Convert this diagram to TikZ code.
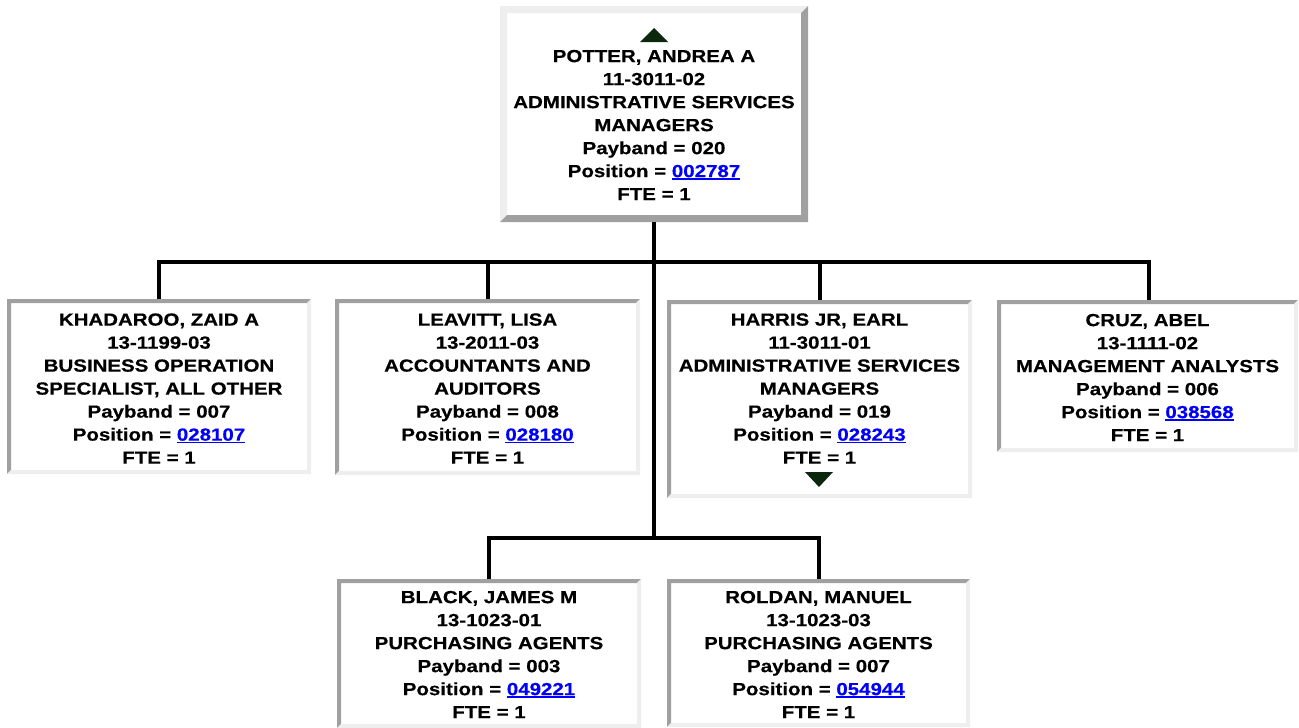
\documentclass[tikz,border=0pt]{standalone}
\usepackage{fontspec}
\setmainfont[FakeStretch=1.17, BoldFeatures={FakeBold=0.4}]{Liberation Sans}
\definecolor{bdark}{HTML}{A0A0A0}
\definecolor{blight}{HTML}{EEEEEE}
\definecolor{linkblue}{HTML}{0000FF}
\definecolor{tricol}{RGB}{12,40,12}
\newcommand\lnk[1]{{\color{linkblue}\setbox0\hbox{#1}\rlap{\rule[-2.6pt]{\wd0}{1.7pt}}\box0}}
\newcommand\bevel[4]{%
 \fill[#2] (#1.north west) -- (#1.north east) -- ([shift={(-#4,-#4)}]#1.north east) -- ([shift={(#4,-#4)}]#1.north west) -- ([shift={(#4,#4)}]#1.south west) -- (#1.south west) -- cycle;
 \fill[#3] (#1.south east) -- (#1.north east) -- ([shift={(-#4,-#4)}]#1.north east) -- ([shift={(-#4,#4)}]#1.south east) -- ([shift={(#4,#4)}]#1.south west) -- (#1.south west) -- cycle;}
\tikzset{
 boxbg/.style={rectangle, fill=white, draw=none, inner sep=0pt, outer sep=0pt},
 txt/.style={align=center, inner sep=0pt, font=\fontsize{17.5pt}{23pt}\selectfont\bfseries},
 conn/.style={draw=black, line width=4pt, line join=miter},
 tri/.style={fill=tricol}
}
\begin{document}
\begin{tikzpicture}[x=1pt,y=-1pt]
\useasboundingbox (0,0) rectangle (1299,728);
% boxes
\node[boxbg, minimum width=308pt, minimum height=216pt] (top) at (654,114) {};
\node[boxbg, minimum width=304pt, minimum height=175pt] (b1) at (159,386.5) {};
\node[boxbg, minimum width=305pt, minimum height=176pt] (b2) at (487.5,387) {};
\node[boxbg, minimum width=305pt, minimum height=198pt] (b3) at (819.5,399) {};
\node[boxbg, minimum width=301pt, minimum height=152pt] (b4) at (1147.5,376) {};
\node[boxbg, minimum width=304pt, minimum height=149pt] (b5) at (489,653.5) {};
\node[boxbg, minimum width=303pt, minimum height=148pt] (b6) at (818.5,653) {};
\bevel{top}{blight}{bdark}{7pt}
\bevel{b1}{bdark}{blight}{4pt}
\bevel{b2}{bdark}{blight}{4pt}
\bevel{b3}{bdark}{blight}{4pt}
\bevel{b4}{bdark}{blight}{4pt}
\bevel{b5}{bdark}{blight}{4pt}
\bevel{b6}{bdark}{blight}{4pt}
% texts
\node[txt] (t0) at (654,125) {POTTER, ANDREA A\\11-3011-02\\ADMINISTRATIVE SERVICES\\MANAGERS\\Payband = 020\\Position = \lnk{002787}\\FTE = 1};
\node[txt] (t1) at (159,388.5) {KHADAROO, ZAID A\\13-1199-03\\BUSINESS OPERATION\\SPECIALIST, ALL OTHER\\Payband = 007\\Position = \lnk{028107}\\FTE = 1};
\node[txt] (t2) at (487.5,388.5) {LEAVITT, LISA\\13-2011-03\\ACCOUNTANTS AND\\AUDITORS\\Payband = 008\\Position = \lnk{028180}\\FTE = 1};
\node[txt] (t3) at (819.5,388.5) {HARRIS JR, EARL\\11-3011-01\\ADMINISTRATIVE SERVICES\\MANAGERS\\Payband = 019\\Position = \lnk{028243}\\FTE = 1};
\node[txt] (t4) at (1147.5,377.5) {CRUZ, ABEL\\13-1111-02\\MANAGEMENT ANALYSTS\\Payband = 006\\Position = \lnk{038568}\\FTE = 1};
\node[txt] (t5) at (489,654.5) {BLACK, JAMES M\\13-1023-01\\PURCHASING AGENTS\\Payband = 003\\Position = \lnk{049221}\\FTE = 1};
\node[txt] (t6) at (818.5,654.5) {ROLDAN, MANUEL\\13-1023-03\\PURCHASING AGENTS\\Payband = 007\\Position = \lnk{054944}\\FTE = 1};
% triangles
\fill[tri] (654,28) -- (668,42) -- (640,42) -- cycle;
\fill[tri] (805,472) -- (833,472) -- (819,487) -- cycle;
% connectors
\coordinate (j1) at (654,262);
\coordinate (j2) at (654,538);
\draw[conn] (top.south) -- (j1);
\draw[conn] (b1.north) |- (j1) -| ([xshift=1.5pt]b4.north);
\draw[conn] (b2.north) -- (b2.north |- j1);
\draw[conn] (b3.north) -- (b3.north |- j1);
\draw[conn] (j1) -- (j2);
\draw[conn] (b5.north) |- (j2) -| (b6.north);
\end{tikzpicture}
\end{document}
